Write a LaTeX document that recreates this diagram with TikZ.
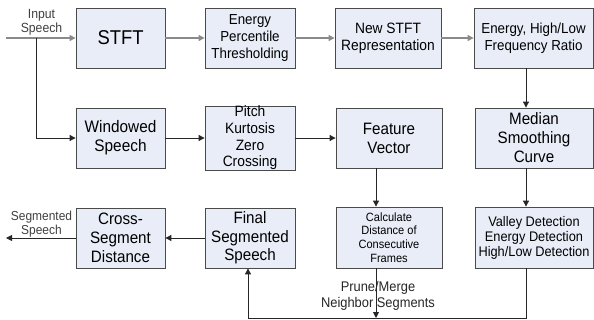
\documentclass[tikz,border=0pt]{standalone}
\usepackage{fontspec}
\setmainfont{Liberation Sans}[FakeStretch=0.92]
\usetikzlibrary{arrows.meta}
\definecolor{boxfill}{HTML}{E8EDF7}
\definecolor{boxdraw}{HTML}{4A4A4A}
\definecolor{lgray}{HTML}{8A8A8A}
\definecolor{lblcol}{HTML}{404040}
\newcommand{\fs}[2]{\fontsize{#1}{#2}\selectfont}
\begin{document}
\begin{tikzpicture}[x=1pt,y=-1pt,
  box/.style={draw=boxdraw, fill=boxfill, line width=0.8pt, align=center, inner sep=0pt, text=black},
  tip/.style={-{Triangle[length=6pt,width=6pt]}},
  gline/.style={draw=lgray, line width=1.2pt},
  bline/.style={draw=black!85, line width=0.9pt},
  lbl/.style={align=center, text=lblcol, inner sep=0pt}]
\useasboundingbox (0,0) rectangle (594,320);
% row 1
\node[box, minimum width=89pt, minimum height=60pt, font=\fs{20}{22}] (stft) at (120.5,38) {STFT};
\node[box, minimum width=90pt, minimum height=60pt, font=\fs{14.5}{16.7}] (ept) at (250,38) {Energy\\Percentile\\Thresholding};
\node[box, minimum width=106pt, minimum height=60pt, font=\fs{15}{16.7}] (nstft) at (388,38) {New STFT\\Representation};
\node[box, minimum width=119pt, minimum height=60pt, font=\fs{14.5}{17}] (ehl) at (533.5,38) {Energy, High/Low\\Frequency Ratio};
% row 2
\node[box, minimum width=89pt, minimum height=60pt, font=\fs{16.7}{18.7}] (ws) at (120.5,138) {Windowed\\Speech};
\node[box, minimum width=90pt, minimum height=60pt, font=\fs{15}{16.7}] (pkz) at (250,138) {Pitch\\Kurtosis\\Zero\\Crossing};
\node[box, minimum width=106pt, minimum height=60pt, font=\fs{16.5}{19}] (fv) at (389,138) {Feature\\Vector};
\node[box, minimum width=118pt, minimum height=60pt, font=\fs{16.5}{19}] (msc) at (534,138) {Median\\Smoothing\\Curve};
% row 3
\node[box, minimum width=89pt, minimum height=60pt, font=\fs{16.5}{18.7}] (csd) at (120.5,238) {Cross-\\Segment\\Distance};
\node[box, minimum width=90pt, minimum height=60pt, font=\fs{16.5}{18.7}] (fss) at (250,238) {Final\\Segmented\\Speech};
\node[box, minimum width=106pt, minimum height=61pt, font=\fs{12}{13.7}] (cdc) at (389,237.5) {Calculate\\Distance of\\Consecutive\\Frames};
\node[box, minimum width=118pt, minimum height=61pt, font=\fs{13.9}{15}] (vd) at (534,237.5) {Valley Detection\\Energy Detection\\High/Low Detection};
% helper coordinates
\coordinate (inp) at (6,38);
\coordinate (br) at (36,38);
\coordinate (outp) at (6,238);
\coordinate (cA) at (376,0);
\coordinate (cB) at (526,0);
\coordinate (cF) at (248,0);
\coordinate (bot) at (0,318);
% connectors
\draw[gline, tip] (inp) -- (stft.west);
\draw[bline, tip] (br) -- (br |- ws.west) -- (ws.west);
\draw[gline, tip] (stft.east) -- (ept.west);
\draw[gline, tip] (ept.east) -- (nstft.west);
\draw[gline, tip] (nstft.east) -- (ehl.west);
\draw[bline, tip] (ehl.south -| cB) -- (msc.north -| cB);
\draw[bline, tip] (ws.east) -- (pkz.west);
\draw[bline, tip] (pkz.east) -- (fv.west);
\draw[bline, tip] (fv.south -| cA) -- (cdc.north -| cA);
\draw[bline, tip] (msc.south -| cB) -- (vd.north -| cB);
\draw[bline, tip] (vd.south -| cB) -- (bot -| cB) -- (bot -| cF) -- (fss.south -| cF);
\draw[bline, tip] (cdc.south -| cA) -- (bot -| cA);
\draw[bline, tip] (fss.west) -- (csd.east);
\draw[bline, tip] (csd.west) -- (outp);
% labels
\node[lbl, font=\fs{13.3}{14}] (lin) at (41.5,22.5) {Input\\Speech};
\node[lbl, font=\fs{13}{14}] (lout) at (41.5,224) {Segmented\\Speech};
\node[lbl, text=black!85, font=\fs{14}{15.5}] (lpm) at (378,296) {Prune/Merge\\Neighbor Segments};
\end{tikzpicture}
\end{document}
